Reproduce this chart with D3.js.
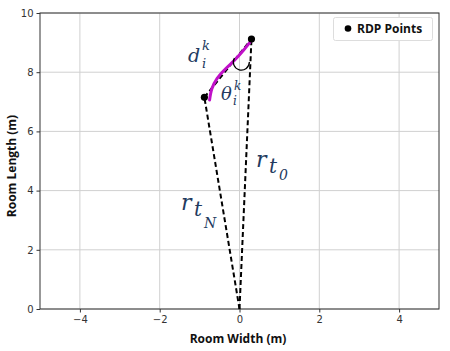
<!DOCTYPE html>
<html>
<head>
<meta charset="utf-8">
<script src="https://cdn.jsdelivr.net/npm/d3@7"></script>
<style>
  body { margin: 0; background: #fff; }
  .tick text { font-family: "DejaVu Sans", sans-serif; font-size: 10px; fill: #333; }
  .lbl { font-family: "Open Sans", sans-serif; font-weight: bold; font-size: 12px; fill: #111; }
  .math { font-family: "DejaVu Serif", serif; font-style: italic; fill: #233a60; }
</style>
</head>
<body>
<svg id="chart" width="450" height="351"></svg>
<script>
// data
var xTicks = [-4, -2, 0, 2, 4];
var yTicks = [0, 2, 4, 6, 8, 10];
var origin = [0, 0];
var rdpPoints = [[0.3, 9.12], [-0.88, 7.15]];
var trajX = [-0.75, -0.69, -0.56, -0.36, -0.12, 0.1, 0.28];
var trajY = [7.06, 7.45, 7.79, 8.1, 8.41, 8.74, 9.04];

var svg = d3.select("#chart");
var plotL = 40, plotR = 439, plotT = 13, plotB = 309;

var x = d3.scaleLinear().domain([-5, 5]).range([plotL, plotR]);
var y = d3.scaleLinear().domain([0, 10]).range([plotB, plotT]);

// grid
svg.append("g").selectAll("line").data(xTicks).enter().append("line")
  .attr("x1", function(d) { return x(d); }).attr("x2", function(d) { return x(d); })
  .attr("y1", plotT).attr("y2", plotB)
  .attr("stroke", "#d0d0d0").attr("stroke-width", 1);
svg.append("g").selectAll("line").data(yTicks).enter().append("line")
  .attr("x1", plotL).attr("x2", plotR)
  .attr("y1", function(d) { return y(d); }).attr("y2", function(d) { return y(d); })
  .attr("stroke", "#d0d0d0").attr("stroke-width", 1);

// axes
var fmt = function(d) { return d < 0 ? "\u2212" + Math.abs(d) : d; };
var xAxis = svg.append("g").attr("transform", "translate(0," + plotB + ")")
  .call(d3.axisBottom(x).tickValues(xTicks).tickFormat(fmt).tickSize(3.5).tickPadding(3));
var yAxis = svg.append("g").attr("transform", "translate(" + plotL + ",0)")
  .call(d3.axisLeft(y).tickValues(yTicks).tickSize(3.5).tickPadding(3));
[xAxis, yAxis].forEach(function(a) {
  a.select(".domain").remove();
  a.selectAll(".tick line").attr("stroke", "#333");
});

// frame
svg.append("rect").attr("x", plotL).attr("y", plotT)
  .attr("width", plotR - plotL).attr("height", plotB - plotT)
  .attr("fill", "none").attr("stroke", "#333").attr("stroke-width", 1);

// dashed rays and chord
var dashed = [[origin, rdpPoints[0]], [origin, rdpPoints[1]], [rdpPoints[1], rdpPoints[0]]];
svg.append("g").selectAll("line").data(dashed).enter().append("line")
  .attr("x1", function(d) { return x(d[0][0]); }).attr("y1", function(d) { return y(d[0][1]); })
  .attr("x2", function(d) { return x(d[1][0]); }).attr("y2", function(d) { return y(d[1][1]); })
  .attr("stroke", "#000").attr("stroke-width", 2).attr("stroke-dasharray", "5,3");

// trajectory
var traj = trajX.map(function(v, i) { return [v, trajY[i]]; });
svg.append("path").datum(traj)
  .attr("d", d3.line().x(function(d) { return x(d[0]); }).y(function(d) { return y(d[1]); }).curve(d3.curveCatmullRom))
  .attr("fill", "none").attr("stroke", "#c010c8").attr("stroke-width", 3).attr("stroke-linecap", "round");

// angle arc below the top point
var p0 = [x(rdpPoints[0][0]), y(rdpPoints[0][1])];
var ac = [p0[0] - 9, p0[1] + 19], ar = 8;
var s = Math.PI * 1.0, e = Math.PI * 0.17;
svg.append("path")
  .attr("d", "M" + (ac[0] + ar * Math.cos(s)) + "," + (ac[1] + ar * Math.sin(s)) +
    " A" + ar + "," + ar + " 0 1,0 " + (ac[0] + ar * Math.cos(e)) + "," + (ac[1] + ar * Math.sin(e)))
  .attr("fill", "none").attr("stroke", "#000").attr("stroke-width", 1.3);

// points
svg.append("g").selectAll("circle").data(rdpPoints).enter().append("circle")
  .attr("cx", function(d) { return x(d[0]); }).attr("cy", function(d) { return y(d[1]); })
  .attr("r", 3.6).attr("fill", "#000");

// math labels
function mathText(px, py, size, str) {
  svg.append("text").attr("class", "math").attr("x", px).attr("y", py)
    .attr("font-size", size).text(str);
}
mathText(188, 62, 19, "d");
mathText(202, 50, 13, "k");
mathText(202, 68, 13, "i");
mathText(221, 100, 18, "\u03b8");
mathText(234, 90, 12, "k");
mathText(233, 105, 12, "i");
mathText(256, 167, 22, "r");
mathText(269, 173, 20, "t");
mathText(279, 180, 14, "0");
mathText(181, 210, 22, "r");
mathText(194, 216, 20, "t");
mathText(204, 228, 14, "N");

// legend
var lg = svg.append("g");
lg.append("rect").attr("x", 333.5).attr("y", 17.5).attr("width", 99).attr("height", 23)
  .attr("rx", 2).attr("fill", "#fff").attr("stroke", "#ddd");
lg.append("circle").attr("cx", 348).attr("cy", 28.5).attr("r", 3.3).attr("fill", "#000");
lg.append("text").attr("class", "lbl").attr("x", 357).attr("y", 33).attr("font-size", 12)
  .text("RDP Points");

// axis labels
svg.append("text").attr("class", "lbl").attr("x", 238).attr("y", 343)
  .attr("text-anchor", "middle").text("Room Width (m)");
svg.append("text").attr("class", "lbl")
  .attr("transform", "translate(16,166) rotate(-90)")
  .attr("text-anchor", "middle").text("Room Length (m)");
</script>
</body>
</html>
